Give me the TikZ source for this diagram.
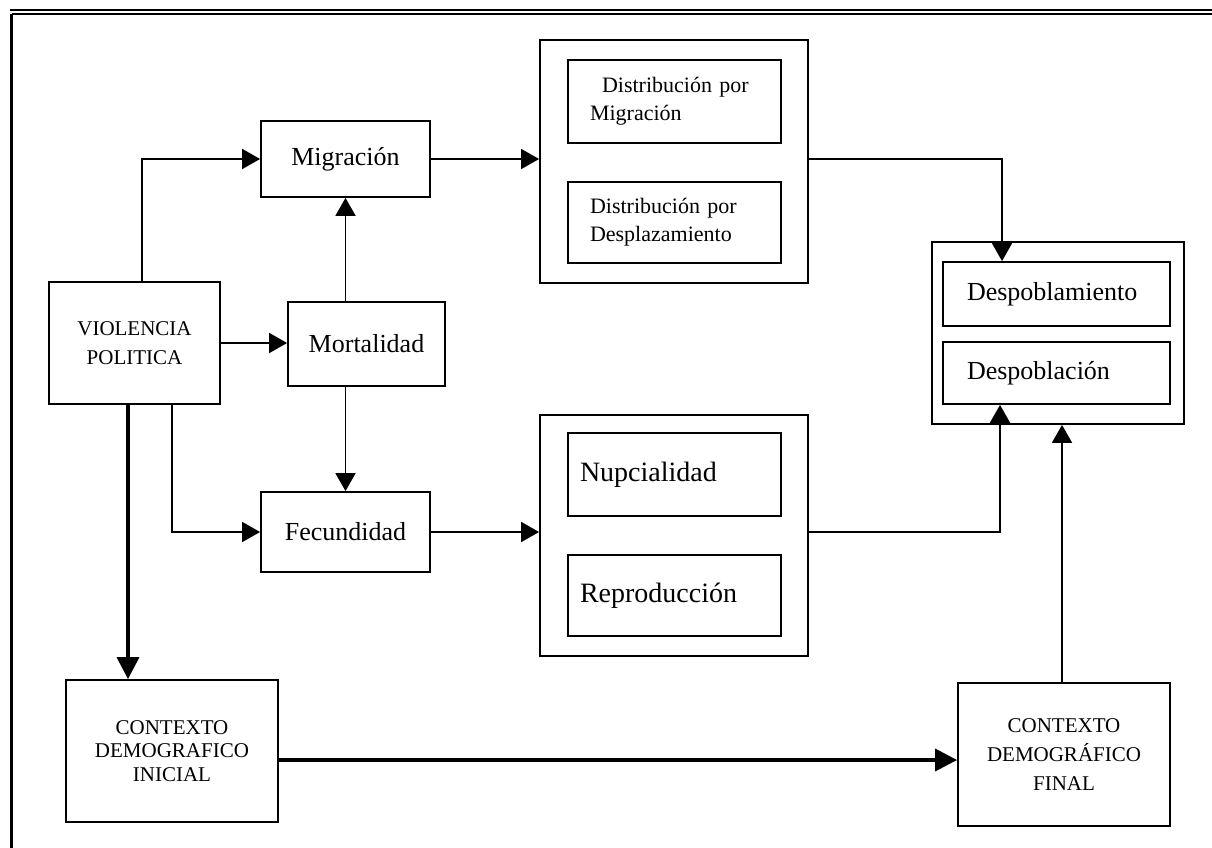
\documentclass[tikz,border=0pt]{standalone}
\usepackage{fontspec}
\setmainfont{Liberation Serif}
\usetikzlibrary{arrows.meta}
\tikzstyle{block} = [draw, rectangle, line width=1.8pt, inner sep=0pt]
\tikzstyle{caps} = [font=\fontsize{21}{29}\selectfont, align=center]
\tikzstyle{word} = [font=\fontsize{26}{30}\selectfont]
\tikzstyle{bigword} = [font=\fontsize{28}{30}\selectfont]
\tikzstyle{small} = [font=\fontsize{22}{28}\selectfont]
\tikzstyle{leftbox} = [align=left, inner xsep=22pt, inner ysep=0pt]
\tikzstyle{arr} = [line width=1.8pt, -{Triangle[length=18pt,width=20pt]}]
\tikzstyle{bigarr} = [line width=3.5pt, -{Triangle[length=22pt,width=22pt]}]

\begin{document}
\begin{tikzpicture}[x=1pt, y=-1pt]
    \useasboundingbox (0,0) rectangle (1212,848);
    \draw [line width=2pt] (10,10) -- (1212,10);
    \draw [line width=2pt] (12,14.5) -- (1212,14.5);
    \draw [line width=3.3pt] (11.7,13.6) -- (11.7,848);
    \node [block, caps, minimum width=171pt, minimum height=122pt] at (134.5,343) (viol) {VIOLENCIA\\POLITICA};
    \node [block, word, minimum width=169pt, minimum height=76pt] at (345.5,159) (migr) {Migración};
    \node [block, word, minimum width=157pt, minimum height=84pt] at (366.5,344) (mort) {Mortalidad};
    \node [block, word, minimum width=169pt, minimum height=80pt] at (345.5,532) (fecu) {Fecundidad};
    \node [block, minimum width=268pt, minimum height=243pt] at (674,161.5) (dist) {};
    \node [block, small, leftbox, text width=169pt, minimum height=83pt] at (674.5,101.5) (dmig) {\hspace*{12pt}Distribución por\\Migración};
    \node [block, small, leftbox, text width=169pt, minimum height=81pt] at (674.5,222.5) (ddes) {Distribución por\\Desplazamiento};
    \node [block, minimum width=268pt, minimum height=241pt] at (674,535.5) (fam) {};
    \node [block, bigword, leftbox, inner xsep=12pt, text width=189pt, minimum height=83pt] at (674.5,474.5) (nupc) {Nupcialidad};
    \node [block, bigword, leftbox, inner xsep=12pt, text width=189pt, minimum height=81pt] at (674.5,595.5) (repr) {Reproducción};
    \node [block, minimum width=252pt, minimum height=182pt] at (1058,333) (desp) {};
    \node [block, word, leftbox, inner xsep=24pt, text width=179pt, minimum height=64pt] at (1056.5,294) (dmto) {Despoblamiento};
    \node [block, word, leftbox, inner xsep=24pt, text width=179pt, minimum height=62pt] at (1056.5,373) (dcion) {Despoblación};
    \node [block, caps, font=\fontsize{21}{23.5}\selectfont, minimum width=212pt, minimum height=142pt] at (172,751) (ini) {CONTEXTO\\DEMOGRAFICO\\INICIAL};
    \node [block, caps, minimum width=212pt, minimum height=143pt] at (1064,754.5) (fin) {CONTEXTO\\DEMOGRÁFICO\\FINAL};
    \coordinate (vup) at ([xshift=7.5pt]viol.north);
    \coordinate (vdown) at ([xshift=37.5pt]viol.south);
    \coordinate (vthick) at ([xshift=-6.5pt]viol.south);
    \coordinate (dmin) at ([xshift=-54.5pt]dmto.north);
    \coordinate (dcin) at ([xshift=-56.5pt]dcion.south);
    \coordinate (iniout) at ([yshift=-9pt]ini.east);
    \draw [arr] (vup) |- (migr.west);
    \draw [arr] (viol.east) -- (viol.east -| mort.west);
    \draw [arr] (mort.north -| migr.south) -- (migr.south);
    \draw [arr] (mort.south -| fecu.north) -- (fecu.north);
    \draw [arr] (vdown) |- (fecu.west);
    \draw [arr] (migr.east) -- (migr.east -| dist.west);
    \draw [arr] (fecu.east) -- (fecu.east -| fam.west);
    \draw [arr] (dist.east |- migr.east) -| (dmin);
    \draw [arr] (fam.east |- fecu.east) -| (dcin);
    \draw [arr] (fin.north -| 1062,0) -- (desp.south -| 1062,0);
    \draw [bigarr] (vthick) -- (vthick |- ini.north);
    \draw [bigarr] (iniout) -- (iniout -| fin.west);
\end{tikzpicture}
\end{document}
